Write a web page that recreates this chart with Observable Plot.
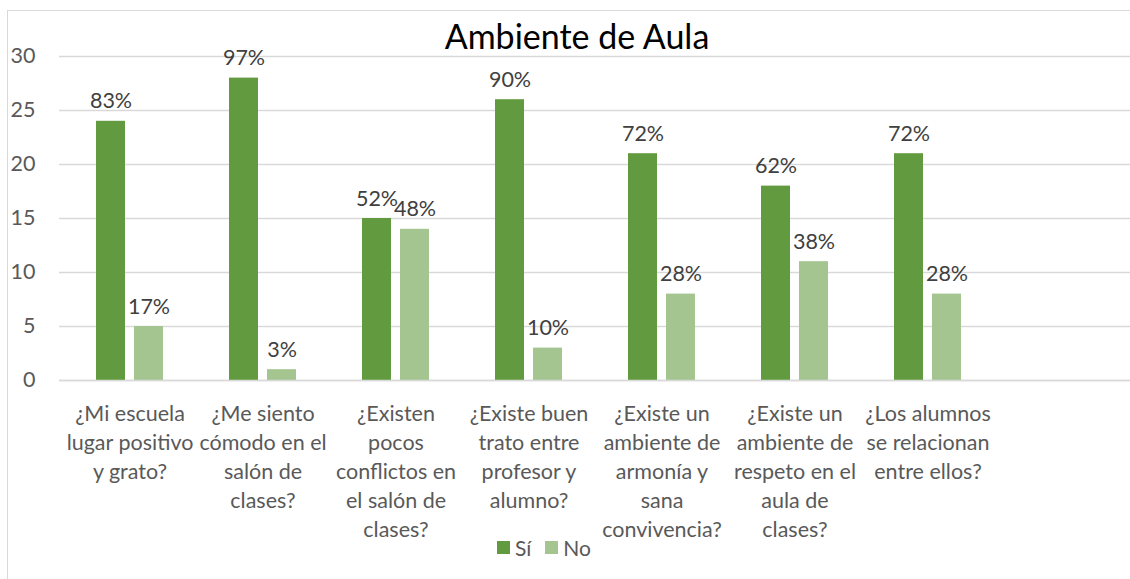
<!DOCTYPE html>
<html>
<head>
<meta charset="utf-8">
<script src="https://cdn.jsdelivr.net/npm/d3@7"></script>
<script src="https://cdn.jsdelivr.net/npm/@observablehq/plot@0.6"></script>
<style>
  html, body { margin: 0; padding: 0; background: #fff; }
  #wrap { position: relative; width: 1130px; height: 579px; overflow: hidden; font-family: Lato, sans-serif; }
  #border { position: absolute; left: 7px; top: 10px; width: 1140px; height: 600px; border: 1.5px solid #d9d9d9; box-sizing: border-box; }
  #chart { position: absolute; left: 0; top: 0; }
  #title { position: absolute; left: 0; width: 1154px; top: 15px; text-align: center; font-size: 34px; color: #000; white-space: nowrap; }
  #legend { position: absolute; top: 535px; left: 497px; font-size: 21px; color: #595959; display: flex; align-items: center; white-space: nowrap; }
  #legend .sw { display: inline-block; width: 13px; height: 13px; margin-right: 5px; }
</style>
</head>
<body>
<div id="wrap">
  <div id="border"></div>
  <div id="chart"></div>
  <div id="title">Ambiente de Aula</div>
  <div id="legend"></div>
</div>
<script>
const categories = [
  "¿Mi escuela\nlugar positivo\ny grato?",
  "¿Me siento\ncómodo en el\nsalón de\nclases?",
  "¿Existen\npocos\nconflictos en\nel salón de\nclases?",
  "¿Existe buen\ntrato entre\nprofesor y\nalumno?",
  "¿Existe un\nambiente de\narmonía y\nsana\nconvivencia?",
  "¿Existe un\nambiente de\nrespeto en el\naula de\nclases?",
  "¿Los alumnos\nse relacionan\nentre ellos?"
];
const siValues = [24, 28, 15, 26, 21, 18, 21];
const noValues = [5, 1, 14, 3, 8, 11, 8];
const siLabels = ["83%", "97%", "52%", "90%", "72%", "62%", "72%"];
const noLabels = ["17%", "3%", "48%", "10%", "28%", "38%", "28%"];
const yTicks = [0, 5, 10, 15, 20, 25, 30];
const series = ["Sí", "No"];
const colors = ["#629b3f", "#a4c490"];

const rows = categories.map((c, i) => ({cat: c, si: siValues[i], no: noValues[i], siL: siLabels[i], noL: noLabels[i]}));
const domain = [...categories, " "];

const chart = Plot.plot({
  width: 1130,
  height: 579,
  marginTop: 56,
  marginBottom: 199,
  marginLeft: 59,
  marginRight: 0,
  style: {fontFamily: "Lato, sans-serif", background: "transparent"},
  x: {domain, padding: 0},
  y: {domain: [0, 30]},
  marks: [
    Plot.gridY(yTicks, {stroke: "#d9d9d9", strokeOpacity: 1, strokeWidth: 1.5}),
    Plot.barY(rows, {x: "cat", y: "si", fill: colors[0], insetLeft: 33, insetRight: 71}),
    Plot.barY(rows, {x: "cat", y: "no", fill: colors[1], insetLeft: 71, insetRight: 33}),
    Plot.text(rows, {x: "cat", y: "si", text: "siL", dx: -19, dy: -13, lineAnchor: "bottom", fontSize: 21.5, fill: "#404040"}),
    Plot.text(rows, {x: "cat", y: "no", text: "noL", dx: 19, dy: -13, lineAnchor: "bottom", fontSize: 21.5, fill: "#404040"}),
    Plot.axisY({ticks: yTicks, tickSize: 0, tickPadding: 24, fontSize: 21.5, color: "#595959", label: null}),
    Plot.axisX({tickSize: 0, tickPadding: 20, fontSize: 21.5, lineHeight: 1.35, color: "#595959", label: null}),
    Plot.ruleY([0], {stroke: "#d9d9d9", strokeWidth: 1.5})
  ]
});
document.getElementById("chart").appendChild(chart);

const legend = document.getElementById("legend");
series.forEach((s, i) => {
  const sw = document.createElement("span");
  sw.className = "sw";
  sw.style.background = colors[i];
  const t = document.createElement("span");
  t.textContent = s;
  t.style.marginRight = i === 0 ? "14px" : "0";
  legend.appendChild(sw);
  legend.appendChild(t);
});
</script>
</body>
</html>
